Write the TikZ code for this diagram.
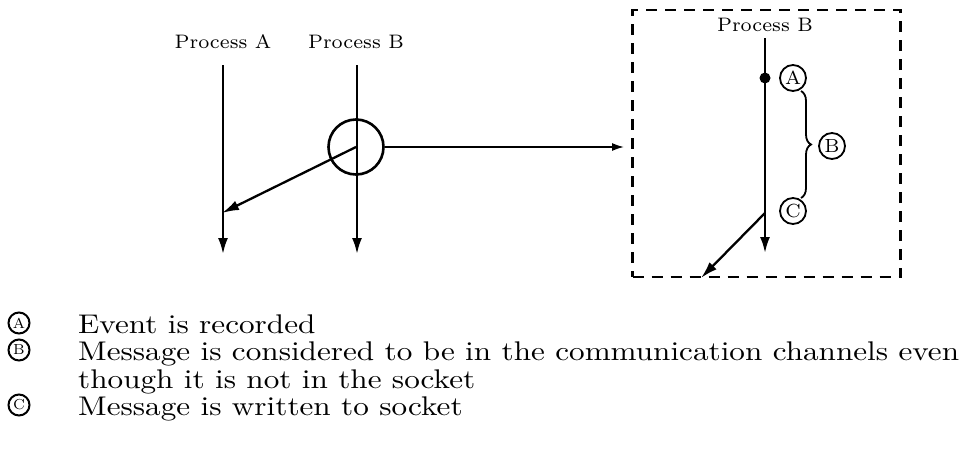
\documentclass[tikz,border=0pt]{standalone}
\usepackage{fontspec}
\setmainfont{lmroman10-regular.otf}
\newfontfamily\lmseven{lmroman7-regular.otf}
\newfontfamily\lmwide{lmroman10-regular.otf}[FakeStretch=1.155]
\usetikzlibrary{arrows.meta,decorations.pathreplacing}
\begin{document}
\begin{tikzpicture}[x=1pt,y=-1pt,
  lbl/.style={font=\lmseven\fontsize{19.5}{22}\selectfont, inner sep=0pt, anchor=base},
  proc/.style={line width=2.3pt, -{Latex[length=16pt,width=10pt]}},
  msg/.style={line width=2.3pt, -{Latex[length=17pt,width=10pt]}},
  thin arrow/.style={line width=1.6pt, -{Latex[length=12pt,width=8pt]}},
  circ/.style={draw, circle, line width=1.8pt, minimum size=26pt, inner sep=0pt, font=\lmseven\fontsize{19}{19}\selectfont},
  lcirc/.style={draw, circle, line width=2pt, minimum size=21pt, inner sep=0pt, font=\lmseven\fontsize{14.5}{14.5}\selectfont},
  legend/.style={font=\lmwide\fontsize{27}{27.5}\selectfont, inner sep=0pt, anchor=base west}]
\useasboundingbox (0,0) rectangle (964,461);

% left part
\node[lbl] (pa) at (223,48) {Process A};
\node[lbl] (pb) at (356,48) {Process B};
\coordinate (pa1) at (223,65);
\coordinate (pa2) at (223,254);
\coordinate (pb1) at (357,65);
\coordinate (pb2) at (357,254);
\draw[proc] (pa1) -- (pa2);
\draw[proc] (pb1) -- (pb2);
\node[draw, circle, line width=2.6pt, minimum size=55pt, inner sep=0pt] (snap) at (356,147) {};
\coordinate (recv) at (222,213);
\draw[msg] (snap.center) -- (recv);

% zoomed box
\node[draw, dash pattern=on 11pt off 8pt, line width=2.4pt, minimum width=268pt, minimum height=267pt, inner sep=0pt] (box) at (766.5,143.5) {};
\coordinate (boxin) at (624,147);
\draw[thin arrow] (snap.east) -- (boxin);

\node[lbl] (pbz) at (765,31) {Process B};
\coordinate (z1) at (765,38);
\coordinate (z2) at (765,253);
\draw[proc] (z1) -- (z2);
\node[circle, fill, minimum size=11pt, inner sep=0pt] (dot) at (765,78) {};
\node[circ] (ca) at (793,78) {A};
\node[circ] (cc) at (793,211) {C};
\node[circ] (cb) at (832,146) {B};
\draw[line width=1.8pt, decorate, decoration={brace, amplitude=10pt}] (801,91) -- (801,198);
\coordinate (zs) at (765,213);
\coordinate (zr) at (701,278);
\draw[msg] (zs) -- (zr);

% legend
\node[lcirc] (la) at (19,323) {A};
\node[lcirc] (lb) at (19,350) {B};
\node[lcirc] (lc) at (19,405) {C};
\node[legend] (ta) at (78,333) {Event is recorded};
\node[legend] (tb) at (78,360.5) {Message is considered to be in the communication channels even};
\node[legend] (tb2) at (78,388) {though it is not in the socket};
\node[legend] (tc) at (78,415.5) {Message is written to socket};
\end{tikzpicture}
\end{document}
